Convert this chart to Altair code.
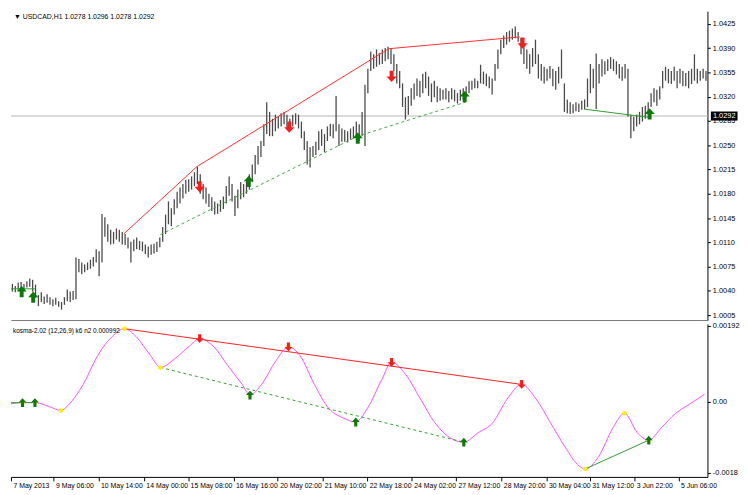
import altair as alt
import pandas as pd

# ---------------- data ----------------
HIGH = [1.0050, 1.0047, 1.0052, 1.0053, 1.0050, 1.0054, 1.0058, 1.0056, 1.0049, 1.0034,
        1.0038, 1.0032, 1.0035, 1.0031, 1.0028, 1.0030, 1.0025, 1.0024, 1.0031, 1.0042,
        1.0039, 1.0040, 1.0088, 1.0086, 1.0081, 1.0078, 1.0081, 1.0085, 1.0089, 1.0100,
        1.0097, 1.0151, 1.0146, 1.0136, 1.0128, 1.0125, 1.0130, 1.0128, 1.0125, 1.0122,
        1.0117, 1.0111, 1.0114, 1.0117, 1.0112, 1.0111, 1.0107, 1.0104, 1.0107, 1.0108,
        1.0111, 1.0117, 1.0132, 1.0150, 1.0169, 1.0159, 1.0172, 1.0183, 1.0189, 1.0194,
        1.0200, 1.0201, 1.0205, 1.0211, 1.0219, 1.0208, 1.0194, 1.0189, 1.0180, 1.0175,
        1.0169, 1.0166, 1.0171, 1.0176, 1.0191, 1.0205, 1.0194, 1.0177, 1.0186, 1.0197,
        1.0194, 1.0201, 1.0208, 1.0222, 1.0236, 1.0249, 1.0256, 1.0280, 1.0312, 1.0298,
        1.0288, 1.0294, 1.0291, 1.0296, 1.0298, 1.0294, 1.0288, 1.0294, 1.0296, 1.0294,
        1.0284, 1.0270, 1.0256, 1.0247, 1.0249, 1.0255, 1.0270, 1.0273, 1.0266, 1.0277,
        1.0281, 1.0280, 1.0321, 1.0280, 1.0274, 1.0272, 1.0270, 1.0274, 1.0277, 1.0284,
        1.0280, 1.0298, 1.0337, 1.0360, 1.0385, 1.0381, 1.0388, 1.0383, 1.0388, 1.0390,
        1.0392, 1.0390, 1.0381, 1.0367, 1.0357, 1.0339, 1.0319, 1.0321, 1.0332, 1.0339,
        1.0346, 1.0343, 1.0353, 1.0356, 1.0349, 1.0339, 1.0343, 1.0335, 1.0332, 1.0330,
        1.0332, 1.0328, 1.0332, 1.0330, 1.0325, 1.0330, 1.0332, 1.0335, 1.0342, 1.0343,
        1.0346, 1.0343, 1.0366, 1.0356, 1.0353, 1.0349, 1.0346, 1.0367, 1.0388, 1.0402,
        1.0408, 1.0413, 1.0415, 1.0418, 1.0421, 1.0413, 1.0404, 1.0397, 1.0388, 1.0381,
        1.0390, 1.0402, 1.0381, 1.0367, 1.0363, 1.0360, 1.0364, 1.0360, 1.0357, 1.0363,
        1.0388, 1.0339, 1.0316, 1.0312, 1.0309, 1.0312, 1.0310, 1.0314, 1.0316, 1.0346,
        1.0367, 1.0360, 1.0382, 1.0367, 1.0374, 1.0371, 1.0374, 1.0377, 1.0374, 1.0371,
        1.0367, 1.0363, 1.0367, 1.0360, 1.0294, 1.0291, 1.0294, 1.0298, 1.0305, 1.0307,
        1.0312, 1.0325, 1.0332, 1.0330, 1.0335, 1.0357, 1.0363, 1.0360, 1.0357, 1.0363,
        1.0357, 1.0360, 1.0357, 1.0354, 1.0357, 1.0360, 1.0381, 1.0360, 1.0357, 1.0360,
        1.0357]
LOW = [1.0039, 1.0038, 1.0042, 1.0043, 1.0040, 1.0045, 1.0046, 1.0039, 1.0030, 1.0018,
       1.0024, 1.0021, 1.0023, 1.0020, 1.0018, 1.0020, 1.0017, 1.0013, 1.0020, 1.0025,
       1.0024, 1.0027, 1.0028, 1.0067, 1.0064, 1.0067, 1.0070, 1.0072, 1.0075, 1.0081,
       1.0061, 1.0081, 1.0118, 1.0111, 1.0107, 1.0108, 1.0114, 1.0111, 1.0107, 1.0106,
       1.0101, 1.0081, 1.0097, 1.0100, 1.0099, 1.0097, 1.0093, 1.0088, 1.0092, 1.0094,
       1.0096, 1.0103, 1.0111, 1.0122, 1.0136, 1.0133, 1.0150, 1.0159, 1.0166, 1.0173,
       1.0180, 1.0183, 1.0186, 1.0191, 1.0194, 1.0180, 1.0172, 1.0166, 1.0161, 1.0155,
       1.0150, 1.0151, 1.0154, 1.0158, 1.0166, 1.0177, 1.0169, 1.0148, 1.0159, 1.0172,
       1.0175, 1.0180, 1.0186, 1.0197, 1.0208, 1.0222, 1.0233, 1.0249, 1.0266, 1.0263,
       1.0263, 1.0270, 1.0274, 1.0277, 1.0280, 1.0274, 1.0272, 1.0277, 1.0280, 1.0274,
       1.0260, 1.0243, 1.0222, 1.0218, 1.0233, 1.0236, 1.0243, 1.0249, 1.0240, 1.0256,
       1.0263, 1.0260, 1.0270, 1.0249, 1.0255, 1.0255, 1.0254, 1.0258, 1.0260, 1.0263,
       1.0256, 1.0263, 1.0249, 1.0325, 1.0357, 1.0360, 1.0363, 1.0366, 1.0367, 1.0371,
       1.0374, 1.0367, 1.0357, 1.0339, 1.0332, 1.0305, 1.0287, 1.0294, 1.0307, 1.0316,
       1.0321, 1.0319, 1.0325, 1.0332, 1.0321, 1.0312, 1.0319, 1.0312, 1.0314, 1.0316,
       1.0316, 1.0312, 1.0316, 1.0313, 1.0310, 1.0314, 1.0316, 1.0319, 1.0325, 1.0330,
       1.0332, 1.0332, 1.0339, 1.0338, 1.0335, 1.0332, 1.0323, 1.0343, 1.0360, 1.0381,
       1.0390, 1.0395, 1.0399, 1.0402, 1.0404, 1.0399, 1.0381, 1.0367, 1.0360, 1.0353,
       1.0363, 1.0367, 1.0346, 1.0343, 1.0339, 1.0343, 1.0346, 1.0335, 1.0330, 1.0339,
       1.0346, 1.0298, 1.0296, 1.0295, 1.0296, 1.0299, 1.0298, 1.0301, 1.0302, 1.0305,
       1.0325, 1.0332, 1.0302, 1.0339, 1.0349, 1.0352, 1.0357, 1.0360, 1.0357, 1.0352,
       1.0346, 1.0343, 1.0346, 1.0291, 1.0260, 1.0270, 1.0277, 1.0280, 1.0284, 1.0288,
       1.0294, 1.0305, 1.0312, 1.0307, 1.0316, 1.0332, 1.0343, 1.0339, 1.0338, 1.0343,
       1.0332, 1.0339, 1.0335, 1.0335, 1.0332, 1.0338, 1.0343, 1.0339, 1.0343, 1.0346,
       1.0343]

PRICE_TICKS = [1.0005, 1.0040, 1.0075, 1.0110, 1.0145, 1.0180, 1.0215,
               1.0250, 1.0285, 1.0320, 1.0355, 1.0390, 1.0425]
PRICE_LABELS = ["1.0005", "1.0040", "1.0075", "1.0110", "1.0145", "1.0180", "1.0215",
                "1.0250", "1.0285", "1.0320", "1.0355", "1.0390", "1.0425"]
CURRENT = 1.0292
HEADER = "\u25bc USDCAD,H1  1.0278 1.0296 1.0278 1.0292"
IND_TITLE = "kosma-2.02 (12,26,9) k6 n2 0.000992"

DATE_TICKS = [-0.5, 14.2, 29.8, 45.5, 60.8, 76.5, 91.8, 107.2, 122.8, 138.2,
              153.5, 169.2, 184.8, 199.8, 215.2, 230.5]
DATE_LABELS = ["7 May 2013", "9 May 06:00", "10 May 14:00", "14 May 00:00",
               "15 May 08:00", "16 May 16:00", "20 May 02:00", "21 May 10:00",
               "22 May 18:00", "24 May 02:00", "27 May 12:00", "28 May 20:00",
               "30 May 04:00", "31 May 12:00", "3 Jun 22:00", "5 Jun 06:00"]

# price-panel trend lines
RED_TOP_X = [38.5, 63.8, 130.2, 175.5]
RED_TOP_Y = [1.0122, 1.0219, 1.0389, 1.0406]
GDASH_TOP_X = [51.2, 119.5, 156.8]
GDASH_TOP_Y = [1.0121, 1.0263, 1.0312]
GSOLID_TOP_SEG = ["a", "a", "b", "b"]
GSOLID_TOP_X = [-0.5, 7.8, 197.8, 220.5]
GSOLID_TOP_Y = [1.0043, 1.0043, 1.0302, 1.0290]
UP_TOP_X = [3.2, 7.2, 81.8, 119.5, 156.5, 220.5]
UP_TOP_Y = [1.0039, 1.0031, 1.0198, 1.0260, 1.0320, 1.0295]
DOWN_TOP_X = [64.8, 95.8, 131.2, 176.5]
DOWN_TOP_Y = [1.0190, 1.0276, 1.0349, 1.0397]

# oscillator panel
OSC_X = [-0.5, 3.5, 7.8, 12.8, 16.8, 19.5, 24.5, 29.5, 34.5, 38.8, 42.8, 47.8, 51.2,
         56.2, 61.2, 64.8, 69.5, 74.5, 79.5, 82.2, 86.2, 91.2, 95.5, 99.5, 104.5,
         109.5, 114.5, 118.8, 122.8, 127.8, 131.2, 136.2, 141.2, 146.2, 151.2, 156.2,
         161.2, 166.2, 171.2, 176.2, 181.2, 186.2, 191.2, 196.2, 198.2, 202.8, 207.8,
         211.8, 216.2, 220.2, 224.5, 229.5, 234.5, 239.5]
OSC_Y = [-0.00005, -0.00002, -0.00002, -0.00012, -0.00022, -0.00007, 0.00044, 0.00117,
         0.00165, 0.00185, 0.00165, 0.00117, 0.00087, 0.00109, 0.00141, 0.00160, 0.00141,
         0.00092, 0.00044, 0.00017, 0.00044, 0.00104, 0.00139, 0.00117, 0.00044, -0.00017,
         -0.00041, -0.00051, -0.00017, 0.00056, 0.00100, 0.00068, 0.00007, -0.00053,
         -0.00090, -0.00102, -0.00078, -0.00053, 0.00007, 0.00044, 0.00007, -0.00053,
         -0.00114, -0.00163, -0.00170, -0.00139, -0.00066, -0.00029, -0.00078, -0.00097,
         -0.00066, -0.00029, -0.00005, 0.00019]
RED_OSC_X = [38.8, 176.2]
RED_OSC_Y = [0.00185, 0.00044]
GDASH_OSC_X = [51.2, 156.2]
GDASH_OSC_Y = [0.00087, -0.00102]
GSOLID_OSC_SEG = ["a", "a", "b", "b"]
GSOLID_OSC_X = [-0.5, 7.8, 198.2, 220.2]
GSOLID_OSC_Y = [-0.00002, -0.00002, -0.00170, -0.00097]
UP_OSC_X = [3.5, 7.8, 82.2, 118.8, 156.2, 220.2]
UP_OSC_Y = [-0.00002, -0.00002, 0.00017, -0.00051, -0.00102, -0.00097]
DOWN_OSC_X = [64.8, 95.5, 131.2, 176.2]
DOWN_OSC_Y = [0.00160, 0.00139, 0.00100, 0.00044]
DOT_OSC_X = [16.8, 38.8, 51.2, 198.2, 211.8] + UP_OSC_X + DOWN_OSC_X
DOT_OSC_Y = [-0.00022, 0.00185, 0.00087, -0.00170, -0.00029] + UP_OSC_Y + DOWN_OSC_Y
OSC_TICKS = [0.00192, 0.0, -0.0018]
OSC_LABELS = ["0.00192", "0.00", "-0.0018"]

# ---------------- chart ----------------
W = 706
H1 = 313
H2 = 155
FONT = "Liberation Sans"
FS = 7.5

bars = pd.DataFrame({"i": list(range(len(HIGH))), "high": HIGH, "low": LOW})
xs = alt.Scale(domain=[-0.5, len(HIGH) - 0.5], nice=False, zero=False)
ys = alt.Scale(domain=[0.9998, 1.0443], nice=False, zero=False)
os_ = alt.Scale(domain=[-0.0019, 0.00197], nice=False, zero=False)

UP_C = "M-0.35,1 L0.35,1 L0.35,0 L0.9,0 L0,-1 L-0.9,0 L-0.35,0 Z"
DOWN_C = "M-0.35,-1 L0.35,-1 L0.35,0 L0.9,0 L0,1 L-0.9,0 L-0.35,0 Z"

price_axis = alt.Axis(orient="right", values=PRICE_TICKS, title=None,
                      grid=False, tickSize=3, labelPadding=2, domainColor="#000",
                      tickColor="#000", labelColor="#000", labelFont=FONT,
                      labelFontSize=FS, labelOverlap=False, labelBound=False,
                      labelExpr=f"{PRICE_LABELS}[indexof({PRICE_TICKS}, datum.value)]")
top_x_axis = alt.Axis(orient="bottom", labels=False, ticks=False, title=None,
                      grid=False, domainColor="#777")
osc_axis = alt.Axis(orient="right", values=OSC_TICKS, title=None, grid=False,
                    tickSize=3, labelPadding=2, domainColor="#000", tickColor="#000",
                    labelColor="#000", labelFont=FONT, labelFontSize=FS,
                    labelOverlap=False, labelBound=False,
                    labelExpr=f"{OSC_LABELS}[indexof({OSC_TICKS}, datum.value)]")
date_axis = alt.Axis(orient="bottom", values=DATE_TICKS, title=None, grid=False,
                     tickSize=4, labelAlign="left", labelOffset=2, labelPadding=1,
                     labelFlush=False, labelOverlap=False, domainColor="#000",
                     tickColor="#000", labelColor="#000", labelFont=FONT,
                     labelFontSize=7,
                     labelExpr=f"{DATE_LABELS}[indexof({DATE_TICKS}, datum.value)]")


def XT(f):
    return alt.X(f, scale=xs, axis=top_x_axis)


def XB(f):
    return alt.X(f, scale=xs, axis=date_axis)


def YP(f):
    return alt.Y(f, scale=ys, axis=price_axis)


def YO(f):
    return alt.Y(f, scale=os_, axis=osc_axis)


hline = alt.Chart(pd.DataFrame({"x": [-0.5, len(HIGH) - 0.5], "p": [CURRENT, CURRENT]})
                  ).mark_line(color="#cfcfcf", strokeWidth=1.5).encode(
    x=XT("x:Q"), y=YP("p:Q"))

bar_layer = alt.Chart(bars).mark_rule(color="#4a4a4a", strokeWidth=1.3).encode(
    x=XT("i:Q"), y=YP("low:Q"), y2="high:Q")

red_top = alt.Chart(pd.DataFrame({"x": RED_TOP_X, "y": RED_TOP_Y})).mark_line(
    color="#ff3030", strokeWidth=1).encode(x=XT("x:Q"), y=YP("y:Q"))
gdash_top = alt.Chart(pd.DataFrame({"x": GDASH_TOP_X, "y": GDASH_TOP_Y})).mark_line(
    color="#3aaa3a", strokeWidth=1, strokeDash=[3, 3]).encode(x=XT("x:Q"), y=YP("y:Q"))
gsolid_top = alt.Chart(pd.DataFrame({"s": GSOLID_TOP_SEG, "x": GSOLID_TOP_X,
                                     "y": GSOLID_TOP_Y})).mark_line(
    color="#2ca02c", strokeWidth=1).encode(x=XT("x:Q"), y=YP("y:Q"), detail="s:N")
up_top = alt.Chart(pd.DataFrame({"x": UP_TOP_X, "y": UP_TOP_Y})).mark_point(
    shape=UP_C, filled=True, color="#0a7a0a", size=130, opacity=1).encode(
    x=XT("x:Q"), y=YP("y:Q"))
down_top = alt.Chart(pd.DataFrame({"x": DOWN_TOP_X, "y": DOWN_TOP_Y})).mark_point(
    shape=DOWN_C, filled=True, color="#ff1a1a", size=130, opacity=1).encode(
    x=XT("x:Q"), y=YP("y:Q"))

box = alt.Chart(pd.DataFrame({"p": [CURRENT]})).mark_point(
    shape="M-1,-0.34 L1,-0.34 L1,0.34 L-1,0.34 Z", filled=True, color="#000",
    size=729, opacity=1).encode(x=alt.value(W + 17), y=YP("p:Q"))
box_txt = alt.Chart(pd.DataFrame({"p": [CURRENT], "t": ["1.0292"]})).mark_text(
    color="#fff", font=FONT, fontSize=FS, align="center", baseline="middle").encode(
    x=alt.value(W + 17), y=YP("p:Q"), text="t:N")

header = alt.Chart(pd.DataFrame({"t": [HEADER]})).mark_text(
    align="left", baseline="middle", font=FONT, fontSize=7, color="#000").encode(
    x=alt.value(3), y=alt.value(6), text="t:N")

top = alt.layer(hline, bar_layer, red_top, gdash_top, gsolid_top, up_top, down_top,
                box, box_txt, header).properties(width=W, height=H1)

# oscillator panel
osc = alt.Chart(pd.DataFrame({"x": OSC_X, "y": OSC_Y})).mark_line(
    color="#ff4cff", strokeWidth=1, interpolate="monotone").encode(
    x=XB("x:Q"), y=YO("y:Q"))
red_osc = alt.Chart(pd.DataFrame({"x": RED_OSC_X, "y": RED_OSC_Y})).mark_line(
    color="#ff2020", strokeWidth=1).encode(x=XB("x:Q"), y=YO("y:Q"))
gdash_osc = alt.Chart(pd.DataFrame({"x": GDASH_OSC_X, "y": GDASH_OSC_Y})).mark_line(
    color="#2f9f2f", strokeWidth=1, strokeDash=[3, 3]).encode(x=XB("x:Q"), y=YO("y:Q"))
gsolid_osc = alt.Chart(pd.DataFrame({"s": GSOLID_OSC_SEG, "x": GSOLID_OSC_X,
                                     "y": GSOLID_OSC_Y})).mark_line(
    color="#2ca02c", strokeWidth=1).encode(x=XB("x:Q"), y=YO("y:Q"), detail="s:N")
dots = alt.Chart(pd.DataFrame({"x": DOT_OSC_X, "y": DOT_OSC_Y})).mark_point(
    shape="circle", filled=True, color="#ffee00", size=22, opacity=1).encode(
    x=XB("x:Q"), y=YO("y:Q"))
up_osc = alt.Chart(pd.DataFrame({"x": UP_OSC_X, "y": UP_OSC_Y})).mark_point(
    shape=UP_C, filled=True, color="#0a7a0a", size=80, opacity=1).encode(
    x=XB("x:Q"), y=YO("y:Q"))
down_osc = alt.Chart(pd.DataFrame({"x": DOWN_OSC_X, "y": DOWN_OSC_Y})).mark_point(
    shape=DOWN_C, filled=True, color="#ff1a1a", size=80, opacity=1).encode(
    x=XB("x:Q"), y=YO("y:Q"))
ind_title = alt.Chart(pd.DataFrame({"t": [IND_TITLE]})).mark_text(
    align="left", baseline="middle", font=FONT, fontSize=6.5, color="#000").encode(
    x=alt.value(2), y=alt.value(7), text="t:N")

bottom = alt.layer(osc, red_osc, gdash_osc, gsolid_osc, dots, up_osc, down_osc,
                   ind_title).properties(width=W, height=H2)

chart = alt.vconcat(top, bottom, spacing=2).properties(
    padding=0, background="#ffffff"
).configure_view(stroke=None).resolve_scale(y="independent")

chart.save("out.html", embed_options={"renderer": "svg", "actions": False})
